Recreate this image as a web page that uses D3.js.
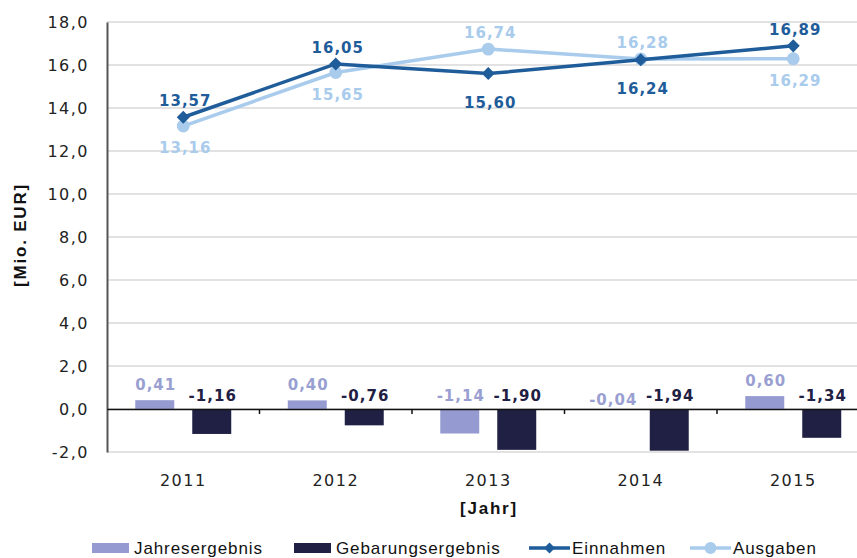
<!DOCTYPE html>
<html>
<head>
<meta charset="utf-8">
<script src="https://cdn.jsdelivr.net/npm/d3@7"></script>
<style>
  html, body { margin: 0; padding: 0; background: #fff; }
  svg { display: block; }
</style>
</head>
<body>
<svg id="chart" width="857" height="558"></svg>
<script>
// data
const years = ["2011", "2012", "2013", "2014", "2015"];
const jahresergebnis = [0.41, 0.40, -1.14, -0.04, 0.60];
const gebarungsergebnis = [-1.16, -0.76, -1.90, -1.94, -1.34];
const einnahmen = [13.57, 16.05, 15.60, 16.24, 16.89];
const ausgaben = [13.16, 15.65, 16.74, 16.28, 16.29];
const yTicks = [-2, 0, 2, 4, 6, 8, 10, 12, 14, 16, 18];

const colors = {
  jahres: "#959bd0",
  gebarung: "#1f2043",
  ein: "#1f5c9a",
  aus: "#a9cbec"
};

const loc = d3.formatLocale({ decimal: ",", thousands: ".", grouping: [3], currency: ["", " €"], minus: "-" });
const fmt1 = loc.format(".1f");
const fmt2 = loc.format(".2f");

const svg = d3.select("#chart");
const plotLeft = 107, plotRight = 869.5, plotTop = 22, plotBottom = 452;

const x = d3.scaleBand().domain(years).range([plotLeft, plotRight]).padding(0);
const xs = d3.scaleBand().domain(["jahres", "gebarung"]).range([0, x.bandwidth()])
  .paddingInner(0.316).paddingOuter(0.496);
const y = d3.scaleLinear().domain([-2, 18]).range([plotBottom, plotTop]);

// gridlines
svg.append("g")
  .selectAll("line")
  .data(yTicks)
  .enter()
  .append("line")
  .attr("x1", plotLeft)
  .attr("x2", 857)
  .attr("y1", d => y(d))
  .attr("y2", d => y(d))
  .style("stroke", "#d9d9d9")
  .style("stroke-width", 1.5);

// y axis
const yAxis = svg.append("g")
  .attr("transform", `translate(${plotLeft},0)`)
  .call(d3.axisLeft(y).tickValues(yTicks).tickFormat(fmt1).tickSize(0).tickPadding(18));
yAxis.select(".domain").style("stroke", "#555").style("stroke-width", 2);
yAxis.selectAll("text")
  .style("font-family", "'DejaVu Sans', Verdana, sans-serif")
  .style("font-size", "16px")
  .style("letter-spacing", "1.5px")
  .style("fill", "#222");

// bars
const barData = years.map((yr, i) => [
  { yr, key: "jahres", v: jahresergebnis[i] },
  { yr, key: "gebarung", v: gebarungsergebnis[i] }
]).flat();

svg.append("g")
  .selectAll("rect")
  .data(barData)
  .enter()
  .append("rect")
  .attr("x", d => x(d.yr) + xs(d.key))
  .attr("width", xs.bandwidth())
  .attr("y", d => y(Math.max(d.v, 0)))
  .attr("height", d => Math.abs(y(d.v) - y(0)))
  .style("fill", d => colors[d.key]);

// x axis at zero
const xAxis = svg.append("g")
  .attr("transform", `translate(0,${y(0)})`)
  .call(d3.axisBottom(x).tickSize(0).tickFormat(""));
xAxis.select(".domain").style("stroke", "#111").style("stroke-width", 1.5);
svg.append("g")
  .selectAll("line")
  .data(years.slice(1))
  .enter()
  .append("line")
  .attr("x1", d => x(d))
  .attr("x2", d => x(d))
  .attr("y1", y(0))
  .attr("y2", y(0) + 5)
  .style("stroke", "#111")
  .style("stroke-width", 1.5);

// year labels below the plot
svg.append("g")
  .selectAll("text")
  .data(years)
  .enter()
  .append("text")
  .attr("x", d => x(d) + x.bandwidth() / 2)
  .attr("y", 486)
  .attr("text-anchor", "middle")
  .style("font-family", "'DejaVu Sans', Verdana, sans-serif")
  .style("font-size", "16px")
  .style("letter-spacing", "1.5px")
  .style("fill", "#222")
  .text(d => d);

// bar labels (small values sit a little lower, like the -0,04 label)
svg.append("g")
  .selectAll("text")
  .data(barData)
  .enter()
  .append("text")
  .attr("x", d => x(d.yr) + xs(d.key) + xs.bandwidth() / 2 + 1)
  .attr("y", d => d.v > 0 ? y(d.v) - 10 : y(0) - (Math.abs(d.v) < 0.1 ? 4 : 8))
  .attr("text-anchor", "middle")
  .style("font-family", "'DejaVu Sans', Verdana, sans-serif")
  .style("font-weight", "bold")
  .style("font-size", "15px")
  .style("letter-spacing", "1px")
  .style("fill", d => d.key === "jahres" ? "#9a9fd2" : colors.gebarung)
  .text(d => fmt2(d.v));

// lines
const diamond = d3.symbol().type(d3.symbolSquare).size(85);
const dot = d3.symbol().type(d3.symbolCircle).size(130);
const series = [
  { name: "Einnahmen", values: einnahmen, other: ausgaben, color: colors.ein, mark: diamond, rot: 45, below: 34 },
  { name: "Ausgaben", values: ausgaben, other: einnahmen, color: colors.aus, mark: dot, rot: 0, below: 27 }
];
const line = d3.line()
  .x((d, i) => x(years[i]) + x.bandwidth() / 2)
  .y(d => y(d));

// draw Einnahmen last so it sits on top where the lines cross
[series[1], series[0]].forEach(s => {
  const g = svg.append("g");
  g.append("path")
    .attr("d", line(s.values))
    .style("fill", "none")
    .style("stroke", s.color)
    .style("stroke-width", 3.5);
  g.selectAll("path.mark")
    .data(s.values)
    .enter()
    .append("path")
    .attr("class", "mark")
    .attr("d", s.mark)
    .attr("transform", (d, i) => `translate(${x(years[i]) + x.bandwidth() / 2},${y(d)}) rotate(${s.rot})`)
    .style("fill", s.color);
});

series.forEach(s => {
  svg.append("g")
    .selectAll("text")
    .data(s.values)
    .enter()
    .append("text")
    .attr("x", (d, i) => x(years[i]) + x.bandwidth() / 2 + 2)
    .attr("y", (d, i) => d > s.other[i] ? y(d) - 11 : y(d) + s.below)
    .attr("text-anchor", "middle")
    .style("font-family", "'DejaVu Sans', Verdana, sans-serif")
    .style("font-weight", "bold")
    .style("font-size", "15px")
    .style("letter-spacing", "1px")
    .style("fill", s.color)
    .text(d => fmt2(d));
});

// axis titles
svg.append("text")
  .attr("transform", "translate(26,235) rotate(-90)")
  .attr("text-anchor", "middle")
  .style("font-family", "'Liberation Sans', Arial, sans-serif")
  .style("font-weight", "bold")
  .style("font-size", "17px")
  .style("letter-spacing", "1.8px")
  .style("fill", "#111")
  .text("[Mio. EUR]");

svg.append("text")
  .attr("x", 489)
  .attr("y", 514)
  .attr("text-anchor", "middle")
  .style("font-family", "'Liberation Sans', Arial, sans-serif")
  .style("font-weight", "bold")
  .style("font-size", "17px")
  .style("letter-spacing", "1.8px")
  .style("fill", "#111")
  .text("[Jahr]");

// legend
const legendItems = [
  { name: "Jahresergebnis", type: "bar", color: colors.jahres, x: 92 },
  { name: "Gebarungsergebnis", type: "bar", color: colors.gebarung, x: 294 },
  { name: "Einnahmen", type: "line", color: colors.ein, mark: d3.symbol().type(d3.symbolSquare).size(60), rot: 45, x: 529 },
  { name: "Ausgaben", type: "line", color: colors.aus, mark: d3.symbol().type(d3.symbolCircle).size(110), rot: 0, x: 690 }
];
const ly = 548;
const lg = svg.append("g")
  .selectAll("g")
  .data(legendItems)
  .enter()
  .append("g")
  .attr("transform", d => `translate(${d.x},${ly})`);
lg.filter(d => d.type === "bar")
  .append("rect")
  .attr("x", 0)
  .attr("y", -5)
  .attr("width", 37)
  .attr("height", 10)
  .style("fill", d => d.color);
lg.filter(d => d.type === "line")
  .append("line")
  .attr("x1", 0)
  .attr("x2", 41)
  .attr("y1", 0)
  .attr("y2", 0)
  .style("stroke", d => d.color)
  .style("stroke-width", 3.5);
lg.filter(d => d.type === "line")
  .append("path")
  .attr("d", d => d.mark())
  .attr("transform", d => `translate(20.5,0) rotate(${d.rot})`)
  .style("fill", d => d.color);
lg.append("text")
  .attr("x", d => d.type === "bar" ? 42 : 43)
  .attr("y", 6)
  .style("font-family", "'Liberation Sans Narrow', 'Arial Narrow', 'Liberation Sans', sans-serif")
  .style("font-size", "17px")
  .style("letter-spacing", "0.9px")
  .style("fill", "#111")
  .text(d => d.name);
</script>
</body>
</html>
